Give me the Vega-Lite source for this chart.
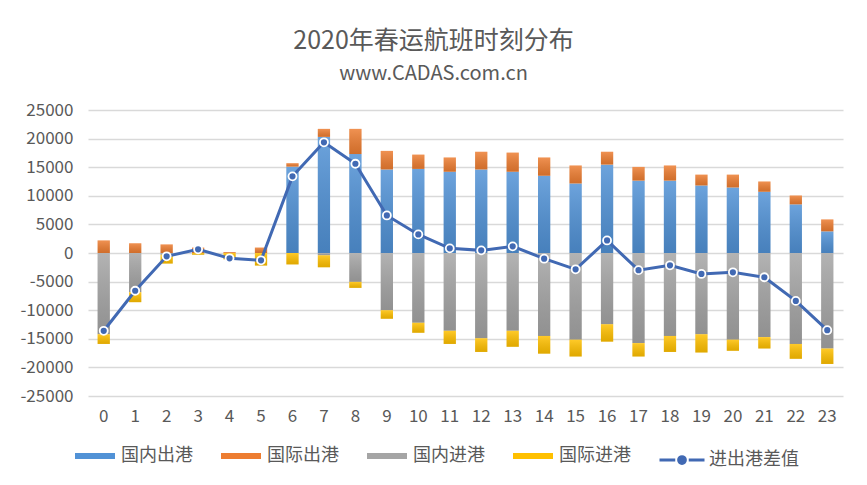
{
  "$schema": "https://vega.github.io/schema/vega-lite/v6.json",
  "width": 755,
  "height": 286,
  "autosize": {"type": "none"},
  "padding": {"left": 88, "top": 110, "right": 24, "bottom": 89},
  "background": "white",
  "title": {
    "text": "2020年春运航班时刻分布",
    "subtitle": "www.CADAS.com.cn",
    "fontSize": 25,
    "fontWeight": "normal",
    "color": "#595959",
    "subtitleFontSize": 20,
    "subtitleColor": "#595959",
    "subtitlePadding": 10,
    "offset": 17,
    "anchor": "middle",
    "dx": -32
  },
  "config": {
    "font": "Noto Sans CJK SC",
    "view": {"stroke": null},
    "axis": {
      "labelFontSize": 17,
      "labelColor": "#595959",
      "labelOverlap": false,
      "domain": false,
      "ticks": false,
      "gridColor": "#d9d9d9",
      "gridWidth": 1.3
    },
    "axisY": {
      "values": [-25000, -20000, -15000, -10000, -5000, 0, 5000, 10000, 15000, 20000, 25000],
      "labelExpr": "'' + datum.value",
      "labelOverlap": false,
      "labelBound": false,
      "labelPadding": 15
    }
  },
  "data": {
    "values": [
      {"h": 0, "国内出港": 0, "国际出港": 2200, "国内进港": -14200, "国际进港": -1700, "进出港差值": -13600},
      {"h": 1, "国内出港": 0, "国际出港": 1700, "国内进港": -6850, "国际进港": -1750, "进出港差值": -6600},
      {"h": 2, "国内出港": 0, "国际出港": 1500, "国内进港": -300, "国际进港": -1550, "进出港差值": -580},
      {"h": 3, "国内出港": 0, "国际出港": 950, "国内进港": 0, "国际进港": -300, "进出港差值": 640},
      {"h": 4, "国内出港": 0, "国际出港": 150, "国内进港": 0, "国际进港": -1100, "进出港差值": -930},
      {"h": 5, "国内出港": 0, "国际出港": 950, "国内进港": 0, "国际进港": -2200, "进出港差值": -1280},
      {"h": 6, "国内出港": 15100, "国际出港": 600, "国内进港": 0, "国际进港": -2000, "进出港差值": 13400},
      {"h": 7, "国内出港": 20300, "国际出港": 1400, "国内进港": -400, "国际进港": -2100, "进出港差值": 19350},
      {"h": 8, "国内出港": 17300, "国际出港": 4400, "国内进港": -5050, "国际进港": -1050, "进出港差值": 15600},
      {"h": 9, "国内出港": 14600, "国际出港": 3250, "国内进港": -10000, "国际进港": -1500, "进出港差值": 6570},
      {"h": 10, "国内出港": 14700, "国际出港": 2500, "国内进港": -12200, "国际进港": -1750, "进出港差值": 3250},
      {"h": 11, "国内出港": 14200, "国际出港": 2500, "国内进港": -13600, "国际进港": -2300, "进出港差值": 810},
      {"h": 12, "国内出港": 14600, "国际出港": 3100, "国内进港": -14900, "国际进港": -2400, "进出港差值": 460},
      {"h": 13, "国内出港": 14200, "国际出港": 3350, "国内进港": -13600, "国际进港": -2800, "进出港差值": 1160},
      {"h": 14, "国内出港": 13500, "国际出港": 3200, "国内进港": -14500, "国际进港": -3100, "进出港差值": -990},
      {"h": 15, "国内出港": 12150, "国际出港": 3150, "国内进港": -15150, "国际进港": -2950, "进出港差值": -2850},
      {"h": 16, "国内出港": 15450, "国际出港": 2250, "国内进港": -12450, "国际进港": -3050, "进出港差值": 2200},
      {"h": 17, "国内出港": 12650, "国际出港": 2400, "国内进港": -15750, "国际进港": -2350, "进出港差值": -3000},
      {"h": 18, "国内出港": 12650, "国际出港": 2650, "国内进港": -14500, "国际进港": -2800, "进出港差值": -2150},
      {"h": 19, "国内出港": 11800, "国际出港": 1900, "国内进港": -14200, "国际进港": -3200, "进出港差值": -3660},
      {"h": 20, "国内出港": 11450, "国际出港": 2250, "国内进港": -15150, "国际进港": -1950, "进出港差值": -3370},
      {"h": 21, "国内出港": 10700, "国际出港": 1800, "国内进港": -14700, "国际进港": -2000, "进出港差值": -4240},
      {"h": 22, "国内出港": 8500, "国际出港": 1550, "国内进港": -15900, "国际进港": -2600, "进出港差值": -8370},
      {"h": 23, "国内出港": 3780, "国际出港": 2090, "国内进港": -16700, "国际进港": -2700, "进出港差值": -13500}
    ]
  },
  "encoding": {
    "x": {
      "field": "h",
      "type": "ordinal",
      "scale": {"paddingInner": 0.61, "paddingOuter": 0.305},
      "axis": {"title": null, "labelAngle": 0, "labelPadding": 12, "grid": false}
    }
  },
  "layer": [
    {
      "transform": [
        {"fold": ["国内出港", "国际出港", "国内进港", "国际进港"], "as": ["series", "value"]}
      ],
      "mark": {"type": "bar"},
      "encoding": {
        "y": {
          "field": "value",
          "type": "quantitative",
          "stack": "zero",
          "title": null,
          "scale": {"domain": [-25000, 25000], "nice": false}
        },
        "order": {"field": "series", "sort": "ascending"},
        "color": {
          "field": "series",
          "type": "nominal",
          "scale": {
            "domain": ["国内出港", "国际出港", "国内进港", "国际进港"],
            "range": ["#5192d6", "#ed7d31", "#a5a5a5", "#ffc000"]
          },
          "legend": {
            "orient": "none",
            "legendX": -13,
            "legendY": 326,
            "direction": "horizontal",
            "title": null,
            "symbolType": "M-1,-0.15H1V0.15H-1Z",
            "symbolSize": 1600,
            "symbolStrokeWidth": 0,
            "labelFontSize": 18,
            "labelColor": "#595959",
            "labelOffset": 6,
            "columnPadding": 28
          }
        }
      }
    },
    {
      "transform": [
        {"fold": ["国内出港", "国际出港", "国内进港", "国际进港"], "as": ["series", "value"]}
      ],
      "mark": {
        "type": "bar",
        "fill": {
          "gradient": "linear", "x1": 0, "y1": 0, "x2": 0, "y2": 1,
          "stops": [
            {"offset": 0, "color": "rgba(255,255,255,0.16)"},
            {"offset": 1, "color": "rgba(0,0,0,0.12)"}
          ]
        }
      },
      "encoding": {
        "y": {"field": "value", "type": "quantitative", "stack": "zero", "title": null},
        "order": {"field": "series", "sort": "ascending"}
      }
    },
    {
      "mark": {"type": "line", "strokeWidth": 3},
      "encoding": {
        "y": {"field": "进出港差值", "type": "quantitative", "title": null},
        "stroke": {
          "datum": "进出港差值",
          "scale": {"range": ["#4169b3"]},
          "legend": {
            "orient": "none",
            "legendX": 570,
            "legendY": 326,
            "title": null,
            "symbolType": "M-1,0H-0.3M0.3,0H1M-0.15,0A0.15,0.15,0,1,0,0.15,0A0.15,0.15,0,1,0,-0.15,0Z",
            "symbolSize": 2025,
            "symbolStrokeWidth": 3,
            "symbolFillColor": "#4169b3",
            "labelFontSize": 18,
            "labelColor": "#595959",
            "labelOffset": 3
          }
        }
      }
    },
    {
      "mark": {"type": "point", "filled": true, "fill": "#4169b3", "stroke": "white", "strokeWidth": 1.8, "size": 64, "opacity": 1},
      "encoding": {
        "y": {"field": "进出港差值", "type": "quantitative", "title": null}
      }
    }
  ]
}
